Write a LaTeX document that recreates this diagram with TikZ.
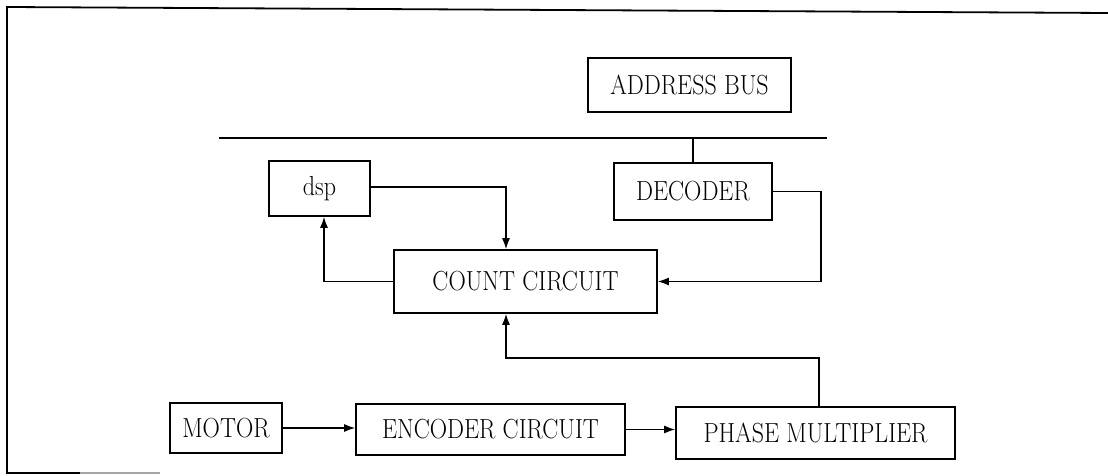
\documentclass[tikz,border=0pt]{standalone}
\usetikzlibrary{arrows.meta}
\newcommand\tallt[1]{\scalebox{1}[1.15]{#1}}
\begin{document}
\begin{tikzpicture}[x=1pt,y=-1pt,
  blk/.style={draw,line width=1.6pt,inner sep=0pt,font=\fontsize{24}{28}\selectfont},
  conn/.style={line width=1.4pt},
  arr/.style={conn,-{Latex[length=11pt,width=8pt]}}]
\useasboundingbox (0,0) rectangle (1108,476);
% frame
\draw[line width=1.8pt] (1108,13) -- (7,7) -- (7,473) -- (80,473);
\draw[line width=1.8pt,black!35] (80,473) -- (160,473);
% blocks
\node[blk,minimum width=203pt,minimum height=54pt] (addr) at (689.5,85) {\tallt{ADDRESS BUS}};
\node[blk,minimum width=158pt,minimum height=57pt] (dec) at (693,191.5) {\tallt{DECODER}};
\node[blk,minimum width=101pt,minimum height=55pt] (dsp) at (319.5,188.5) {\tallt{dsp}};
\node[blk,minimum width=263pt,minimum height=63pt] (count) at (525.5,281.5) {\tallt{COUNT CIRCUIT}};
\node[blk,minimum width=112pt,minimum height=50pt] (motor) at (226,428) {\tallt{MOTOR}};
\node[blk,minimum width=269pt,minimum height=51pt] (enc) at (490.5,429.5) {\tallt{ENCODER CIRCUIT}};
\node[blk,minimum width=279pt,minimum height=52pt] (phase) at (815.5,433) {\tallt{PHASE MULTIPLIER}};
% bus
\coordinate (busL) at (219,138);
\coordinate (busR) at (827,138);
\draw[line width=2.2pt] (busL) -- (busR);
\draw[conn] (dec.north) -- (dec.north |- busL);
% connectors
\coordinate (rx) at (821,191.5);
\draw[arr] (dec.east) -- (rx) |- (count.east);
\coordinate (tapx) at (506,187);
\draw[arr] (dsp.east |- tapx) -- (tapx) -- (count.north -| tapx);
\coordinate (lx) at (324,281.5);
\draw[arr] (count.west) -- (lx) -- (dsp.south -| lx);
\coordinate (jr) at (819,358);
\coordinate (jl) at (506,358);
\draw[arr] (phase.north -| jr) -- (jr) -- (jl) -- (count.south -| jl);
\draw[arr] (motor.east) -- (enc.west |- motor.east);
\draw[arr] (enc.east) -- (phase.west |- enc.east);
\end{tikzpicture}
\end{document}
